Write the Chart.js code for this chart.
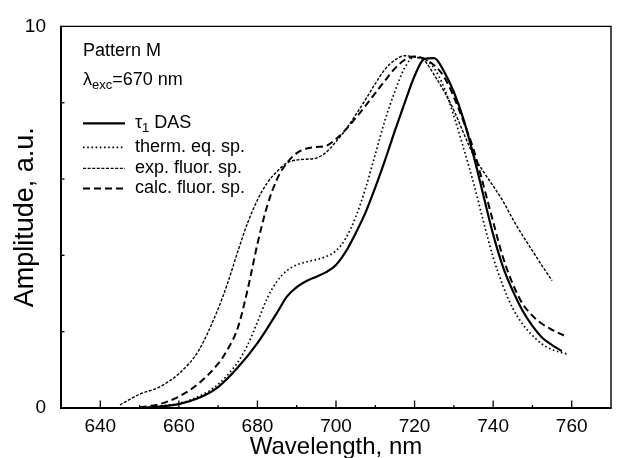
<!DOCTYPE html>
<html>
<head>
<meta charset="utf-8">
<script src="https://cdn.jsdelivr.net/npm/chart.js@4.4.1/dist/chart.umd.min.js"></script>
<style>
  html, body { margin: 0; padding: 0; background: #fff; }
  #wrap { width: 618px; height: 458px; }
</style>
</head>
<body>
<div id="wrap"><canvas id="spectra" width="618" height="458"></canvas></div>
<script>
// wavelength (nm) / amplitude (a.u.) pairs
const dasWl  = [650, 655, 660, 665, 670, 675, 680, 685, 687.5, 690, 692.5, 695, 697.5, 700, 702.5, 705, 707.5, 710, 712.5, 715, 717.5, 720, 722.5, 725, 727.5, 730, 732.5, 735, 737.5, 740, 742.5, 745, 747.5, 750, 752.5, 755, 757.5];
const dasAmp = [0.0, 0.04, 0.1, 0.26, 0.55, 1.06, 1.7, 2.5, 2.92, 3.17, 3.33, 3.44, 3.56, 3.75, 4.1, 4.58, 5.12, 5.78, 6.5, 7.27, 8.0, 8.7, 9.15, 9.17, 8.82, 8.28, 7.55, 6.62, 5.58, 4.55, 3.7, 3.07, 2.55, 2.15, 1.84, 1.65, 1.49];

const thermWl  = [650, 655, 660, 665, 670, 675, 677.5, 680, 682.5, 685, 687.5, 690, 692.5, 695, 697.5, 700, 702.5, 705, 707.5, 710, 712.5, 715, 717.5, 720, 722.5, 725, 727.5, 730, 732.5, 735, 737.5, 740, 742.5, 745, 747.5, 750, 752.5, 755, 759];
const thermAmp = [0.0, 0.05, 0.12, 0.3, 0.62, 1.2, 1.65, 2.25, 2.88, 3.32, 3.6, 3.75, 3.83, 3.89, 3.97, 4.12, 4.45, 5.0, 5.75, 6.65, 7.55, 8.3, 8.92, 9.2, 9.15, 8.9, 8.4, 7.65, 6.8, 5.9, 4.9, 3.95, 3.2, 2.61, 2.2, 1.9, 1.67, 1.53, 1.41];

const expWl  = [645, 650, 655, 660, 665, 670, 672.5, 675, 677.5, 680, 682.5, 685, 687.5, 690, 692.5, 695, 697.5, 700, 702.5, 705, 707.5, 710, 712.5, 715, 717.5, 720, 722.5, 725, 727.5, 730, 732.5, 735, 737.5, 740, 742.5, 745, 747.5, 750, 752.5, 755];
const expAmp = [0.08, 0.36, 0.55, 0.9, 1.5, 2.6, 3.3, 4.1, 4.85, 5.45, 5.9, 6.2, 6.42, 6.5, 6.52, 6.55, 6.7, 6.98, 7.3, 7.68, 8.08, 8.5, 8.88, 9.12, 9.23, 9.2, 9.1, 8.73, 8.3, 7.8, 7.2, 6.62, 6.2, 5.82, 5.42, 4.95, 4.52, 4.12, 3.72, 3.34];

const calcWl  = [650, 655, 660, 665, 670, 672.5, 675, 677.5, 680, 682.5, 685, 687.5, 690, 692.5, 695, 697.5, 700, 702.5, 705, 707.5, 710, 712.5, 715, 717.5, 720, 722.5, 725, 727.5, 730, 732.5, 735, 737.5, 740, 742.5, 745, 747.5, 750, 752.5, 755, 758];
const calcAmp = [0.02, 0.1, 0.3, 0.64, 1.16, 1.55, 2.1, 3.1, 4.3, 5.3, 6.0, 6.42, 6.68, 6.8, 6.84, 6.87, 7.05, 7.3, 7.6, 7.92, 8.25, 8.58, 8.9, 9.12, 9.21, 9.15, 8.98, 8.68, 8.15, 7.5, 6.78, 5.85, 4.88, 3.95, 3.25, 2.73, 2.42, 2.2, 2.05, 1.9];

const xTicksMajor = [640, 660, 680, 700, 720, 740, 760];
const yTickLabels = [0, 10];

const FONT = "'Liberation Sans', Arial, Helvetica, sans-serif";

const pairs = (wl, amp) => wl.map((w, i) => ({ x: w, y: amp[i] }));

// series: label parts are [main, subscript, rest]
const series = [
  { key: ['\u03c4', '1', ' DAS'], data: pairs(dasWl, dasAmp), dash: [], width: 2.2 },
  { key: ['therm. eq. sp.', '', ''], data: pairs(thermWl, thermAmp), dash: [1.6, 2.6], width: 1.7 },
  { key: ['exp. fluor. sp.', '', ''], data: pairs(expWl, expAmp), dash: [3, 1.6], width: 1.4 },
  { key: ['calc. fluor. sp.', '', ''], data: pairs(calcWl, calcAmp), dash: [7, 4], width: 2 },
];

// draw text with a lowered, smaller part in the middle
function subText(ctx, x, y, parts, size) {
  ctx.font = size + 'px ' + FONT;
  ctx.fillText(parts[0], x, y);
  x += ctx.measureText(parts[0]).width;
  if (parts[1]) {
    ctx.font = Math.round(size * 0.7) + 'px ' + FONT;
    ctx.fillText(parts[1], x, y + 4);
    x += ctx.measureText(parts[1]).width;
  }
  ctx.font = size + 'px ' + FONT;
  if (parts[2]) ctx.fillText(parts[2], x, y);
}

const frameAndKey = {
  id: 'frameAndKey',
  afterDatasetsDraw(chart) {
    const { ctx, chartArea: a, scales: { x, y } } = chart;
    ctx.save();
    ctx.strokeStyle = '#000';
    ctx.fillStyle = '#000';

    // thin top and right edges
    ctx.lineWidth = 1.4;
    ctx.beginPath();
    ctx.moveTo(a.left, a.top);
    ctx.lineTo(a.right, a.top);
    ctx.lineTo(a.right, a.bottom);
    ctx.stroke();
    // heavier axes
    ctx.lineWidth = 2;
    ctx.beginPath();
    ctx.moveTo(a.left, a.top - 0.7);
    ctx.lineTo(a.left, a.bottom);
    ctx.lineTo(a.right + 0.7, a.bottom);
    ctx.stroke();

    // inward tick marks
    ctx.lineWidth = 1.3;
    x.ticks.forEach(t => {
      if (t.value <= x.min || t.value >= x.max) return;
      const px = x.getPixelForValue(t.value);
      const len = xTicksMajor.includes(t.value) ? 7.5 : 3;
      ctx.beginPath();
      ctx.moveTo(px, a.bottom);
      ctx.lineTo(px, a.bottom - len);
      ctx.stroke();
    });
    y.ticks.forEach(t => {
      if (t.value <= y.min || t.value >= y.max) return;
      const py = y.getPixelForValue(t.value);
      ctx.beginPath();
      ctx.moveTo(a.left, py);
      ctx.lineTo(a.left + 3.5, py);
      ctx.stroke();
    });

    // header text and key
    const kx = a.left + 22;
    ctx.textBaseline = 'alphabetic';
    ctx.textAlign = 'left';
    subText(ctx, kx, a.top + 30, ['Pattern M', '', ''], 18);
    subText(ctx, kx, a.top + 59, ['\u03bb', 'exc', '=670 nm'], 18);

    const rows = [97, 121, 142, 162];
    chart.data.datasets.forEach((ds, i) => {
      const ly = a.top + rows[i];
      ctx.lineWidth = ds.borderWidth;
      ctx.setLineDash(ds.borderDash);
      ctx.beginPath();
      ctx.moveTo(kx, ly);
      ctx.lineTo(kx + 42, ly);
      ctx.stroke();
      ctx.setLineDash([]);
      subText(ctx, kx + 52, ly + 5, series[i].key, 18);
    });
    ctx.restore();
  }
};

new Chart(document.getElementById('spectra'), {
  type: 'line',
  data: {
    datasets: series.map(s => ({
      data: s.data,
      borderColor: '#000',
      borderWidth: s.width,
      borderDash: s.dash,
      pointRadius: 0,
      fill: false,
      cubicInterpolationMode: 'monotone',
    })),
  },
  options: {
    responsive: false,
    animation: false,
    layout: { padding: { top: 20, right: 2, left: 0, bottom: 0 } },
    plugins: { legend: { display: false }, tooltip: { enabled: false } },
    scales: {
      x: {
        type: 'linear',
        min: 630,
        max: 770,
        grid: { display: false, drawTicks: false },
        border: { display: false },
        ticks: {
          stepSize: 10,
          autoSkip: false,
          maxRotation: 0,
          padding: 7,
          color: '#000',
          font: { family: FONT, size: 19 },
          callback: v => (xTicksMajor.includes(v) ? String(v) : ''),
        },
        title: {
          display: true,
          text: 'Wavelength, nm',
          color: '#000',
          font: { family: FONT, size: 24, lineHeight: 1 },
          padding: { top: 0, bottom: -1 },
        },
        afterFit: s => { s.height = 50; },
      },
      y: {
        min: 0,
        max: 10,
        grid: { display: false, drawTicks: false },
        border: { display: false },
        ticks: {
          stepSize: 2,
          padding: 15,
          color: '#000',
          font: { family: FONT, size: 19 },
          callback: v => (yTickLabels.includes(v) ? String(v) : ''),
        },
        title: {
          display: true,
          text: 'Amplitude, a.u.',
          color: '#000',
          font: { family: FONT, size: 27, lineHeight: 1 },
          padding: { top: 12, bottom: 0 },
        },
        afterFit: s => { s.width = 61; },
      },
    },
  },
  plugins: [frameAndKey],
});
</script>
</body>
</html>
